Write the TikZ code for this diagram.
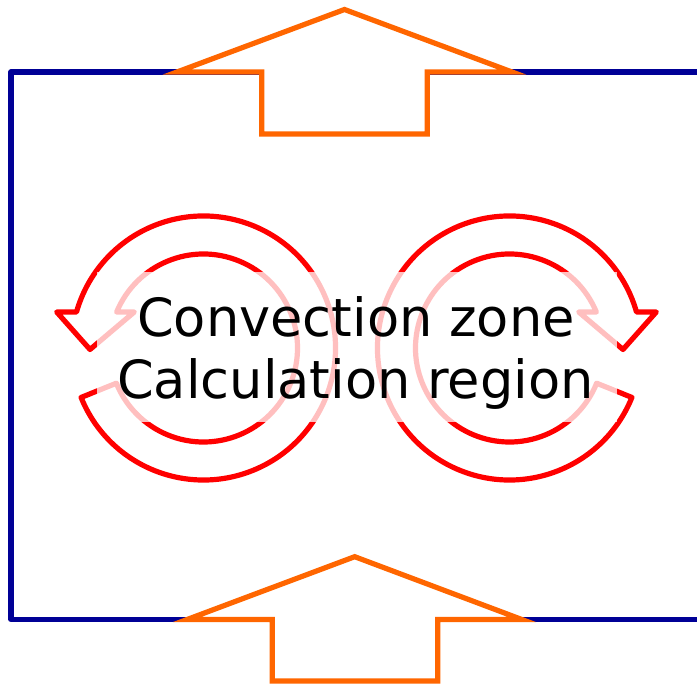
\documentclass[tikz,border=0pt]{standalone}
\usepackage{fontspec}
\setmainfont{DejaVu Sans}
\usetikzlibrary{calc}
\definecolor{frameblue}{RGB}{0,0,150}
\definecolor{arroworange}{RGB}{255,102,0}
\definecolor{swirlred}{RGB}{255,0,0}
\begin{document}
\begin{tikzpicture}[x=1pt,y=1pt,
  frame/.style={draw=frameblue, line width=5.2pt, line join=round},
  flowarrow/.style={draw=arroworange, fill=white, line width=5.2pt, line join=miter},
  swirl/.style={draw=swirlred, fill=white, line width=5.2pt, line join=round},
  band/.style={fill=white, fill opacity=0.75, draw=none, minimum width=520pt, minimum height=150pt, inner sep=0pt},
  lbl/.style={font=\fontsize{52.6}{61.6}\selectfont, text=black, inner sep=0pt}]
\useasboundingbox (0,0) rectangle (697,685);

% open frame
\coordinate (fTR) at (705,613);
\coordinate (fTL) at (11,613);
\coordinate (fBL) at (11,65.5);
\coordinate (fBR) at (705,65.5);
\draw[frame] (fTR) -- (fTL) -- (fBL) -- (fBR);

% top block arrow
\draw[flowarrow] (344.5,675.5) -- (512,613) -- (427.3,613) -- (427.3,551)
  -- (261.8,551) -- (261.8,613) -- (177,613) -- cycle;

% bottom block arrow
\draw[flowarrow] (354.7,128.3) -- (521.8,65.5) -- (437.8,65.5) -- (437.8,4)
  -- (272.2,4) -- (272.2,65.5) -- (187.1,65.5) -- cycle;

% circular arrows
\coordinate (lc) at (203.5,337);
\coordinate (rc) at (509.5,337);
\draw[swirl] ($(lc)+(202:132)$) arc[start angle=202,end angle=524.2,radius=132]
  -- (56.7,373) -- (90,335.5) -- (134.3,373)
  -- ($(lc)+(517.5:94)$) arc[start angle=517.5,end angle=202,radius=94] -- cycle;
\draw[swirl] ($(rc)+(338:132)$) arc[start angle=338,end angle=15.8,radius=132]
  -- (656.3,373) -- (623,335.5) -- (578.7,373)
  -- ($(rc)+(22.5:94)$) arc[start angle=22.5,end angle=338,radius=94] -- cycle;

% translucent band and text
\node[band] (band) at (357,338) {};
\node[lbl, anchor=base] (line1) at (356,348.3) {Convection zone};
\node[lbl, anchor=base] (line2) at (355.5,286.7) {Calculation region};
\end{tikzpicture}
\end{document}
